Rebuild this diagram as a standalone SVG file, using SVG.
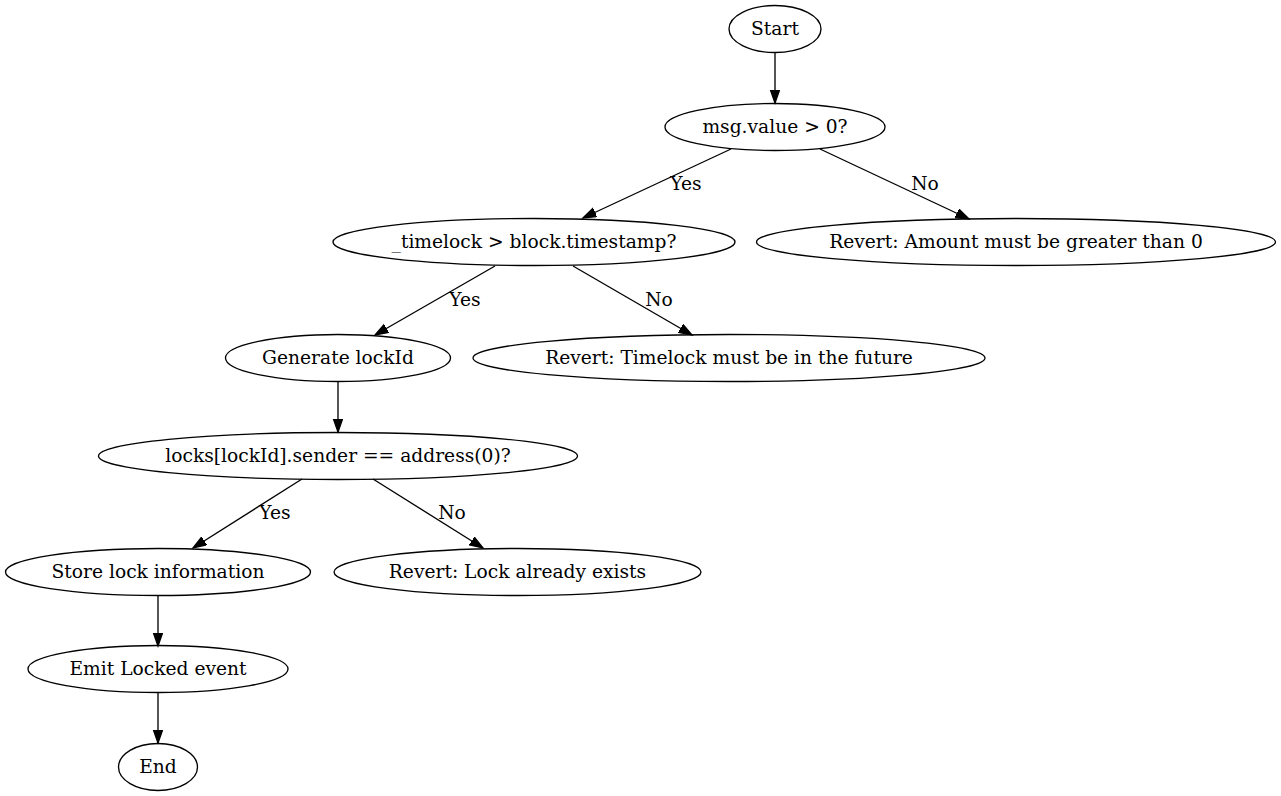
<svg xmlns="http://www.w3.org/2000/svg" width="1281" height="796" viewBox="0 0 1281 796">
<style>
  .n ellipse { fill: none; stroke: #000; stroke-width: 1.33; }
  text { font-family: "DejaVu Serif", "Liberation Serif", serif; font-size: 18.67px; fill: #000; text-anchor: middle; }
  .e line { stroke: #000; stroke-width: 1.33; marker-end: url(#arr); }
</style>
<defs>
  <marker id="arr" markerUnits="userSpaceOnUse" markerWidth="16" markerHeight="12" refX="13.3" refY="5" orient="auto">
    <path d="M0,0.33 L13.3,5 L0,9.67 Z" fill="#000" stroke="#000" stroke-width="1.33"/>
  </marker>
</defs>
<rect width="1281" height="796" fill="#fff"/>
<g id="edges" class="e">
  <line x1="775" y1="53" x2="775" y2="103"/>
  <line x1="731" y1="149" x2="583" y2="218"/>
  <line x1="820" y1="149" x2="969" y2="219"/>
  <line x1="495" y1="266" x2="375" y2="335"/>
  <line x1="573" y1="266" x2="692" y2="335"/>
  <line x1="338" y1="382" x2="338" y2="432"/>
  <line x1="302" y1="479" x2="193" y2="548"/>
  <line x1="373" y1="479" x2="483" y2="548"/>
  <line x1="158" y1="596" x2="158" y2="646"/>
  <line x1="158" y1="693" x2="158" y2="743"/>
  <text x="686" y="190">Yes</text>
  <text x="925" y="190">No</text>
  <text x="465" y="306">Yes</text>
  <text x="659" y="306">No</text>
  <text x="275" y="519">Yes</text>
  <text x="452" y="519">No</text>
</g>
<g id="start" class="n"><ellipse cx="775" cy="29" rx="46" ry="23.5"/><text x="775" y="35">Start</text></g>
<g id="check_value" class="n"><ellipse cx="775" cy="127" rx="110" ry="23.5"/><text x="775" y="133">msg.value &gt; 0?</text></g>
<g id="check_timelock" class="n"><ellipse cx="534" cy="242" rx="201" ry="23.5"/><text x="534" y="248">_timelock &gt; block.timestamp?</text></g>
<g id="revert_amount" class="n"><ellipse cx="1016" cy="242" rx="259.5" ry="23.5"/><text x="1016" y="248">Revert: Amount must be greater than 0</text></g>
<g id="generate_lockid" class="n"><ellipse cx="338" cy="358" rx="112.5" ry="23.5"/><text x="338" y="364">Generate lockId</text></g>
<g id="revert_timelock" class="n"><ellipse cx="729" cy="358" rx="256" ry="23.5"/><text x="729" y="364">Revert: Timelock must be in the future</text></g>
<g id="check_lock" class="n"><ellipse cx="338" cy="456" rx="239.5" ry="23.5"/><text x="338" y="462">locks[lockId].sender == address(0)?</text></g>
<g id="store_lock" class="n"><ellipse cx="158" cy="572" rx="152.5" ry="23.5"/><text x="158" y="578">Store lock information</text></g>
<g id="revert_lock" class="n"><ellipse cx="517.5" cy="572" rx="183.5" ry="23.5"/><text x="517.5" y="578">Revert: Lock already exists</text></g>
<g id="emit_event" class="n"><ellipse cx="158" cy="669" rx="130" ry="23.5"/><text x="158" y="675">Emit Locked event</text></g>
<g id="end" class="n"><ellipse cx="158" cy="767" rx="39.5" ry="23.5"/><text x="158" y="773">End</text></g>
</svg>
